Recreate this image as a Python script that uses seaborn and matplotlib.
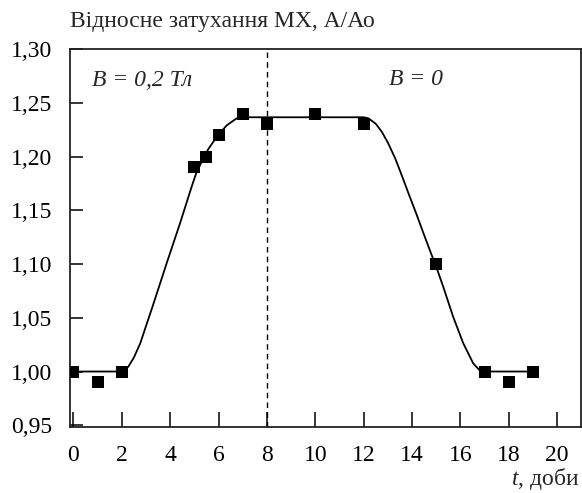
import numpy as np
import pandas as pd
import matplotlib
matplotlib.use("Agg")
import matplotlib.pyplot as plt
import seaborn as sns
from matplotlib.ticker import FuncFormatter

# measured points
t_days = [0, 1, 2, 5, 5.5, 6, 7, 8, 10, 12, 15, 17, 18, 19]
atten = [1.00, 0.99, 1.00, 1.19, 1.20, 1.22, 1.24, 1.23, 1.24, 1.23, 1.10, 1.00, 0.99, 1.00]

# fitted curve
curve_t = [0, 2.1, 2.27, 2.5, 2.76, 3.31, 3.86, 4.41, 4.89, 5.1, 5.58, 5.93, 6.34, 6.75, 7.1,
           12.0, 12.2, 12.5, 12.75, 13.0, 13.3, 13.5, 13.85, 14.19, 14.5, 14.81, 15.0, 15.29,
           15.7, 16.12, 16.53, 16.8, 17.0, 19.0]
curve_v = [1.0, 1.0, 1.0045, 1.013, 1.026, 1.063, 1.101, 1.138, 1.172, 1.186, 1.207, 1.2184,
           1.229, 1.2355, 1.2365,
           1.2365, 1.2355, 1.2305, 1.223, 1.213, 1.1985, 1.187, 1.166, 1.146, 1.127, 1.1085,
           1.0975, 1.0789, 1.051, 1.0262, 1.0076, 1.001, 1.0, 1.0]

x_ticks = [0, 2, 4, 6, 8, 10, 12, 14, 16, 18, 20]
y_ticks = [0.95, 1.00, 1.05, 1.10, 1.15, 1.20, 1.25, 1.30]
field_switch = 8

sns.set_theme(style="white")
plt.rcParams['font.family'] = ['Liberation Serif', 'DejaVu Serif']
plt.rcParams['mathtext.fontset'] = 'custom'
plt.rcParams['mathtext.it'] = 'Liberation Serif:italic'
plt.rcParams['mathtext.rm'] = 'Liberation Serif'

FS = 17

fig = plt.figure(figsize=(5.82, 4.93), dpi=100)
ax = fig.add_axes([0.1203, 0.1339, 0.998 - 0.1203, 0.9006 - 0.1339])

pts = pd.DataFrame({"t": t_days, "a": atten})
cur = pd.DataFrame({"t": curve_t, "a": curve_v})

sns.lineplot(data=cur, x="t", y="a", ax=ax, color="black", lw=1.3, sort=False, zorder=2)
ax.axvline(field_switch, color="black", lw=1.0, ls=(0, (4, 3)), zorder=1)
sns.scatterplot(data=pts, x="t", y="a", ax=ax, marker="s", s=70, color="black",
                edgecolor="black", linewidth=0, zorder=3)

ax.set_xlim(-0.14, 20.98)
ax.set_ylim(0.9484, 1.30)
ax.set_xticks(x_ticks)
ax.set_yticks(y_ticks)
ax.yaxis.set_major_formatter(FuncFormatter(lambda v, p: f"{v:.2f}".replace(".", ",")))
ax.tick_params(axis="x", direction="in", length=10.8, width=1.1, pad=13, labelsize=FS,
               bottom=True, top=False, colors="black")
ax.tick_params(axis="y", direction="in", length=9.4, width=1.1, pad=13, labelsize=FS,
               left=True, right=False, colors="black")
for sp in ax.spines.values():
    sp.set_visible(True)
    sp.set_color("#222222")
    sp.set_linewidth(1.3)

ax.set_xlabel("")
ax.set_ylabel("")

ax.text(0.77, 1.271, "B = 0,2 Тл", fontsize=FS, fontstyle="italic", va="center", ha="left")
ax.text(14.16, 1.272, "B = 0", fontsize=FS, fontstyle="italic", va="center", ha="center")

fig.text(70 / 582, 1 - 27 / 493, "Відносне затухання МХ, А/Ао", fontsize=FS,
         ha="left", va="baseline")
fig.text(579 / 582, 1 - 485 / 493, "$t$, доби", fontsize=FS, ha="right", va="baseline")

fig.savefig("out.png", dpi=100)
